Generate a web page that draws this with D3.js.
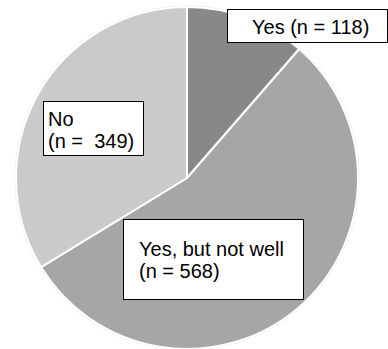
<!DOCTYPE html>
<html>
<head>
<meta charset="utf-8">
<script src="https://cdn.jsdelivr.net/npm/d3@7"></script>
<style>
  body { margin: 0; background: #fff; }
  text { font-family: "Liberation Sans", Arial, sans-serif; font-size: 20px; fill: #000; }
</style>
</head>
<body>
<div id="chart"></div>
<script>
// pie data
var labels = ["Yes", "Yes, but not well", "No"];
var counts = [118, 568, 349];
var colors = ["#888888", "#a6a6a6", "#cacaca"];

var width = 388, height = 349,
  cx = 187, cy = 178,  // pie centre
  r = 171;

var svg = d3.select("#chart").append("svg")
  .attr("width", width)
  .attr("height", height);

var data = labels.map(function (d, i) { return { label: d, n: counts[i], color: colors[i] }; });

var pie = d3.pie().sort(null).value(function (d) { return d.n; });
var arc = d3.arc().innerRadius(0).outerRadius(r);

var g = svg.append("g").attr("transform", "translate(" + cx + "," + cy + ")");

// faint outer rim
g.append("circle")
  .attr("r", r + 1)
  .style("fill", "none")
  .style("stroke", "#e4e4e4")
  .style("stroke-width", 1);

g.selectAll("path")
  .data(pie(data))
  .enter()
  .append("path")
  .attr("d", arc)
  .style("fill", function (d) { return d.data.color; })
  .style("stroke", "#fff")
  .style("stroke-width", 2)
  .style("stroke-linejoin", "round");

// label boxes (placed like the original callouts)
var boxes = [
  { x: 227, y: 9, w: 160, h: 33, lines: ["Yes (n = 118)"], tx: 252, ty: 34 },
  { x: 123, y: 219, w: 180, h: 80, lines: ["Yes, but not well", "(n = 568)"], tx: 139, ty: 256 },
  { x: 43, y: 101, w: 100, h: 54, lines: ["No", "(n =  349)"], tx: 48, ty: 126 }
];

var lab = svg.selectAll("g.lab")
  .data(boxes)
  .enter()
  .append("g")
  .attr("class", "lab");

lab.append("rect")
  .attr("x", function (d) { return d.x + 0.5; })
  .attr("y", function (d) { return d.y + 0.5; })
  .attr("width", function (d) { return d.w; })
  .attr("height", function (d) { return d.h; })
  .style("fill", "#fff")
  .style("stroke", "#000")
  .style("stroke-width", 1);

lab.each(function (d) {
  var t = d3.select(this).append("text")
    .attr("x", d.tx)
    .attr("y", d.ty)
    .style("white-space", "pre");
  d.lines.forEach(function (s, i) {
    t.append("tspan")
      .attr("x", d.tx)
      .attr("dy", i === 0 ? 0 : 21.5)
      .text(s);
  });
});
</script>
</body>
</html>
